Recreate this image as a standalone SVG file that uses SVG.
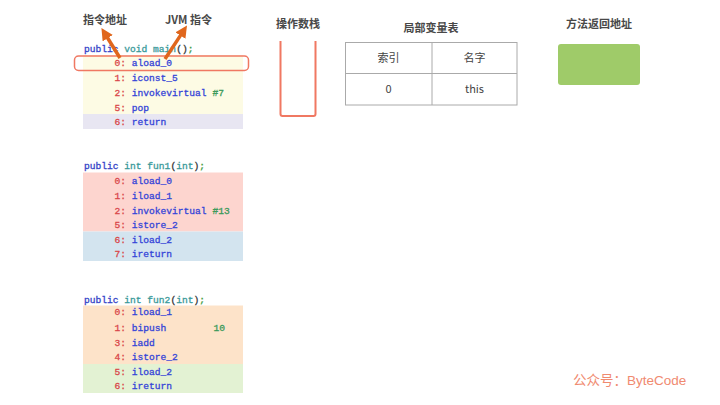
<svg xmlns="http://www.w3.org/2000/svg" width="720" height="405" viewBox="0 0 720 405">
<defs>
<style>
.code{font-family:"Liberation Mono","DejaVu Sans Mono",monospace;font-size:9.6px;stroke-width:0.3px;}
.kw{fill:#3545c8;stroke:#3545c8;}
.ty{fill:#3a9a9a;stroke:#3a9a9a;}
.pn{fill:#333;stroke:#333;}
.sc{fill:#3a9a3a;stroke:#3a9a3a;}
.ix{fill:#d9474a;stroke:#d9474a;}
.op{fill:#3545d8;stroke:#3545d8;}
.nm{fill:#3a9a5a;stroke:#3a9a5a;}
.lbl{font-family:"Noto Sans CJK SC","Noto Sans",sans-serif;font-size:11px;fill:#484848;font-weight:bold;}
.cell{font-family:"Noto Sans CJK SC","Liberation Sans",sans-serif;font-size:11px;fill:#444;}
.arr{stroke:#e0661c;stroke-width:3.5;fill:none;}
</style>
<marker id="ah" viewBox="0 0 12 12" refX="2" refY="6" markerUnits="userSpaceOnUse" markerWidth="12" markerHeight="12" orient="auto">
<path d="M0,0 L12,6 L0,12 z" fill="#e0661c"/>
</marker>
</defs>
<rect width="720" height="405" fill="#fff"/>

<g id="label-addr"><text class="lbl" x="83" y="24">指令地址</text></g>
<g id="label-jvm"><text class="lbl" x="165" y="24">JVM 指令</text></g>

<g id="main-block">
<rect x="83" y="55" width="160" height="59" fill="#fdfbe4"/>
<rect x="83" y="114" width="160" height="15" fill="#e8e6f2"/>
<text class="code" x="84" y="51.5"><tspan class="kw">public</tspan> <tspan class="ty">void main</tspan><tspan class="pn">()</tspan><tspan class="sc">;</tspan></text>
<text class="code" x="114.5" y="66"><tspan class="ix">0:</tspan> <tspan class="op">aload_0</tspan></text>
<text class="code" x="114.5" y="81"><tspan class="ix">1:</tspan> <tspan class="op">iconst_5</tspan></text>
<text class="code" x="114.5" y="95.5"><tspan class="ix">2:</tspan> <tspan class="op">invokevirtual</tspan> <tspan class="nm">#7</tspan></text>
<text class="code" x="114.5" y="110.5"><tspan class="ix">5:</tspan> <tspan class="op">pop</tspan></text>
<text class="code" x="114.5" y="125"><tspan class="ix">6:</tspan> <tspan class="op">return</tspan></text>
</g>

<g id="fun1-block">
<rect x="83" y="172.5" width="160" height="59" fill="#fdd5cf"/>
<rect x="83" y="231.5" width="160" height="29.5" fill="#d3e4ef"/>
<text class="code" x="84" y="169"><tspan class="kw">public</tspan> <tspan class="ty">int fun1</tspan><tspan class="pn">(</tspan><tspan class="ty">int</tspan><tspan class="pn">)</tspan><tspan class="sc">;</tspan></text>
<text class="code" x="114.5" y="183.5"><tspan class="ix">0:</tspan> <tspan class="op">aload_0</tspan></text>
<text class="code" x="114.5" y="198.5"><tspan class="ix">1:</tspan> <tspan class="op">iload_1</tspan></text>
<text class="code" x="114.5" y="213.5"><tspan class="ix">2:</tspan> <tspan class="op">invokevirtual</tspan> <tspan class="nm">#13</tspan></text>
<text class="code" x="114.5" y="228"><tspan class="ix">5:</tspan> <tspan class="op">istore_2</tspan></text>
<text class="code" x="114.5" y="242.5"><tspan class="ix">6:</tspan> <tspan class="op">iload_2</tspan></text>
<text class="code" x="114.5" y="257"><tspan class="ix">7:</tspan> <tspan class="op">ireturn</tspan></text>
</g>

<g id="fun2-block">
<rect x="83" y="305.5" width="160" height="58.5" fill="#fde3c9"/>
<rect x="83" y="364" width="160" height="29" fill="#e3f2d3"/>
<text class="code" x="84" y="302.5"><tspan class="kw">public</tspan> <tspan class="ty">int fun2</tspan><tspan class="pn">(</tspan><tspan class="ty">int</tspan><tspan class="pn">)</tspan><tspan class="sc">;</tspan></text>
<text class="code" x="114.5" y="315"><tspan class="ix">0:</tspan> <tspan class="op">iload_1</tspan></text>
<text class="code" x="114.5" y="330.5"><tspan class="ix">1:</tspan> <tspan class="op">bipush</tspan></text>
<text class="code nm" x="213.5" y="330.5">10</text>
<text class="code" x="114.5" y="345.5"><tspan class="ix">3:</tspan> <tspan class="op">iadd</tspan></text>
<text class="code" x="114.5" y="360"><tspan class="ix">4:</tspan> <tspan class="op">istore_2</tspan></text>
<text class="code" x="114.5" y="375"><tspan class="ix">5:</tspan> <tspan class="op">iload_2</tspan></text>
<text class="code" x="114.5" y="389"><tspan class="ix">6:</tspan> <tspan class="op">ireturn</tspan></text>
</g>

<g id="highlight">
<rect x="74.5" y="56" width="174" height="14.5" rx="4" fill="none" stroke="#f07862" stroke-width="1.5"/>
</g>

<g id="connectors">
<line class="arr" x1="120" y1="58" x2="106.7" y2="36.5" marker-end="url(#ah)"/>
<line class="arr" x1="165" y1="59" x2="181.5" y2="33.9" marker-end="url(#ah)"/>
</g>

<g id="operand-stack">
<text class="lbl" x="298" y="28" text-anchor="middle">操作数栈</text>
<path d="M280.5,41 V114 Q280.5,116 282.5,116 H313.5 Q315.5,116 315.5,114 V41" fill="none" stroke="#f07862" stroke-width="2"/>
</g>

<g id="local-vars">
<text class="lbl" x="431" y="32" text-anchor="middle">局部变量表</text>
<rect x="345.5" y="42.5" width="171.5" height="62.5" fill="none" stroke="#aaa" stroke-width="1"/>
<line x1="345.5" y1="73.5" x2="517" y2="73.5" stroke="#aaa" stroke-width="1"/>
<line x1="432" y1="42.5" x2="432" y2="105" stroke="#aaa" stroke-width="1"/>
<text class="cell" x="388.5" y="62" text-anchor="middle">索引</text>
<text class="cell" x="474.5" y="62" text-anchor="middle">名字</text>
<text class="cell" x="388.5" y="93" text-anchor="middle">0</text>
<text class="cell" x="474.5" y="93" text-anchor="middle">this</text>
</g>

<g id="return-addr">
<text class="lbl" x="599" y="28" text-anchor="middle">方法返回地址</text>
<rect x="558" y="44" width="82" height="41" rx="3" fill="#9fcb69"/>
</g>

<g id="watermark">
<text x="573" y="385" font-family="Liberation Sans,Noto Sans CJK SC,sans-serif" font-size="13.5" fill="#f08a70">公众号：ByteCode</text>
</g>
</svg>
